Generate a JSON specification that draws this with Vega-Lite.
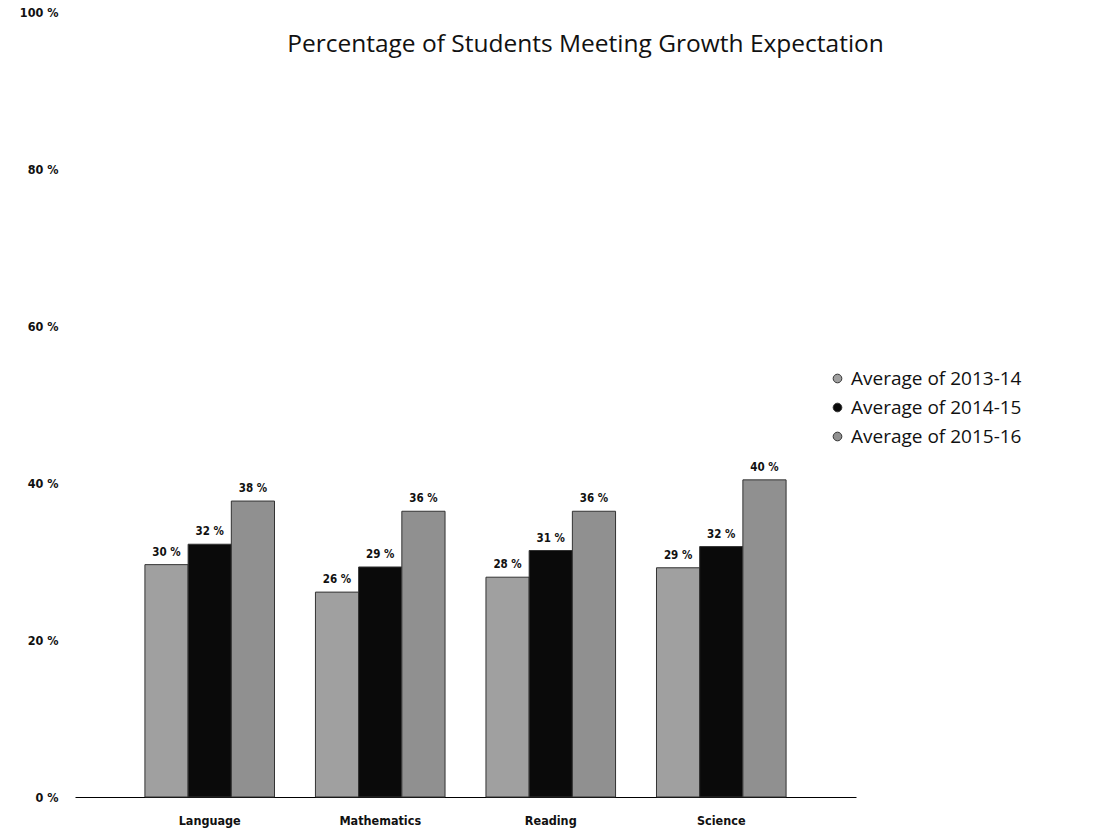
{
  "$schema": "https://vega.github.io/schema/vega-lite/v6.json",
  "autosize": "none",
  "width": 781,
  "height": 785,
  "padding": {"left": 75, "top": 12, "right": 258, "bottom": 33},
  "background": "white",
  "config": {"view": {"stroke": null}},
  "title": {
    "text": "Percentage of Students Meeting Growth Expectation",
    "font": "Open Sans",
    "fontSize": 24.5,
    "fontWeight": "normal",
    "color": "#111111",
    "anchor": "middle",
    "dx": 120,
    "offset": -51
  },
  "data": {
    "values": [
      {"subject": "Language", "series": "Average of 2013-14", "value": 29.6},
      {"subject": "Language", "series": "Average of 2014-15", "value": 32.2},
      {"subject": "Language", "series": "Average of 2015-16", "value": 37.7},
      {"subject": "Mathematics", "series": "Average of 2013-14", "value": 26.1},
      {"subject": "Mathematics", "series": "Average of 2014-15", "value": 29.3},
      {"subject": "Mathematics", "series": "Average of 2015-16", "value": 36.4},
      {"subject": "Reading", "series": "Average of 2013-14", "value": 28.0},
      {"subject": "Reading", "series": "Average of 2014-15", "value": 31.4},
      {"subject": "Reading", "series": "Average of 2015-16", "value": 36.4},
      {"subject": "Science", "series": "Average of 2013-14", "value": 29.2},
      {"subject": "Science", "series": "Average of 2014-15", "value": 31.9},
      {"subject": "Science", "series": "Average of 2015-16", "value": 40.4}
    ]
  },
  "transform": [
    {"calculate": "format(datum.value, '.0f') + ' %'", "as": "label"}
  ],
  "encoding": {
    "x": {
      "field": "subject",
      "type": "nominal",
      "sort": ["Language", "Mathematics", "Reading", "Science"],
      "scale": {"paddingInner": 0.24, "paddingOuter": 0.41},
      "axis": {
        "title": null,
        "labelAngle": 0,
        "ticks": false,
        "domain": true,
        "domainColor": "#000000",
        "domainWidth": 1,
        "labelFont": "DejaVu Sans Condensed",
        "labelFontWeight": "bold",
        "labelFontSize": 12.5,
        "labelColor": "#111111",
        "labelPadding": 17
      }
    },
    "xOffset": {
      "field": "series",
      "type": "nominal",
      "scale": {"paddingInner": 0, "paddingOuter": 0}
    },
    "y": {
      "field": "value",
      "type": "quantitative",
      "scale": {"domain": [0, 100], "nice": false},
      "axis": {
        "title": null,
        "values": [0, 20, 40, 60, 80, 100],
        "labelExpr": "datum.value + ' %'",
        "grid": false,
        "ticks": false,
        "domain": false,
        "labelFont": "DejaVu Sans Condensed",
        "labelFontWeight": "bold",
        "labelFontSize": 12.5,
        "labelColor": "#111111",
        "labelPadding": 17
      }
    }
  },
  "layer": [
    {
      "mark": {"type": "bar", "stroke": "#333333", "strokeWidth": 1},
      "encoding": {
        "color": {
          "field": "series",
          "type": "nominal",
          "scale": {
            "domain": ["Average of 2013-14", "Average of 2014-15", "Average of 2015-16"],
            "range": ["#a0a0a0", "#0a0a0a", "#909090"]
          },
          "legend": {
            "title": null,
            "orient": "none",
            "legendX": 753,
            "legendY": 357,
            "symbolType": "circle",
            "symbolSize": 75,
            "symbolStrokeColor": "#333333",
            "symbolStrokeWidth": 1,
            "labelFont": "Open Sans",
            "labelFontSize": 19,
            "labelColor": "#111111",
            "labelOffset": 4,
            "rowPadding": 9,
            "labelLimit": 300
          }
        }
      }
    },
    {
      "mark": {
        "type": "text",
        "baseline": "bottom",
        "dy": -7,
        "font": "DejaVu Sans Condensed",
        "fontWeight": "bold",
        "fontSize": 11.5,
        "color": "#111111"
      },
      "encoding": {
        "text": {"field": "label", "type": "nominal"}
      }
    }
  ]
}
